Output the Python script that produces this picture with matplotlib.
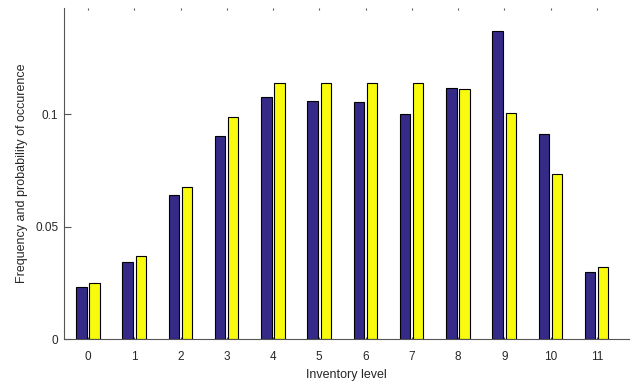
import matplotlib
matplotlib.use("Agg")
import matplotlib.pyplot as plt
import numpy as np

plt.rcParams['font.family'] = ['Liberation Sans', 'DejaVu Sans']

levels = list(range(12))
frequency = [0.0233, 0.0342, 0.0640, 0.0905, 0.1077, 0.1058, 0.1056, 0.1003,
             0.1116, 0.1371, 0.0911, 0.0298]
probability = [0.0248, 0.0370, 0.0678, 0.0987, 0.1138, 0.1138, 0.1141, 0.1138,
               0.1113, 0.1004, 0.0734, 0.0319]
yticks = [0, 0.05, 0.1]
ytick_labels = ['0', '0.05', '0.1']

blue = '#352A87'
yellow = '#F9FB0E'
txt = '#262626'

fig = plt.figure(figsize=(6.4, 3.83), dpi=100)
ax = fig.add_axes([0.1, 0.1146, 0.883, 0.8645])

x = np.array(levels)
ax.bar(x - 0.143, frequency, width=0.225, color=blue, edgecolor='black', linewidth=0.8, zorder=2)
ax.bar(x + 0.14, probability, width=0.225, color=yellow, edgecolor='black', linewidth=0.8, zorder=2)

ax.set_xlim(-0.52, 11.7)
ax.set_ylim(0, 0.1473)
ax.set_xticks(levels)
ax.set_xticklabels([str(v) for v in levels])
ax.set_yticks(yticks)
ax.set_yticklabels(ytick_labels)

for side in ['top', 'right']:
    ax.spines[side].set_visible(False)
for side in ['left', 'bottom']:
    ax.spines[side].set_color('#555555')
    ax.spines[side].set_linewidth(0.8)

ax.tick_params(axis='both', direction='in', colors='#555555', labelcolor=txt,
               labelsize=8.5, length=5, width=0.8)
ax.tick_params(axis='x', top=True, length=1.2, pad=8.5)
ax.tick_params(axis='y', pad=4)

ax.set_xlabel('Inventory level', fontsize=9, color=txt, labelpad=4.5)
ax.set_ylabel('Frequency and probability of occurence', fontsize=9, color=txt, labelpad=5)

fig.savefig('out.png', dpi=100, facecolor='white')
